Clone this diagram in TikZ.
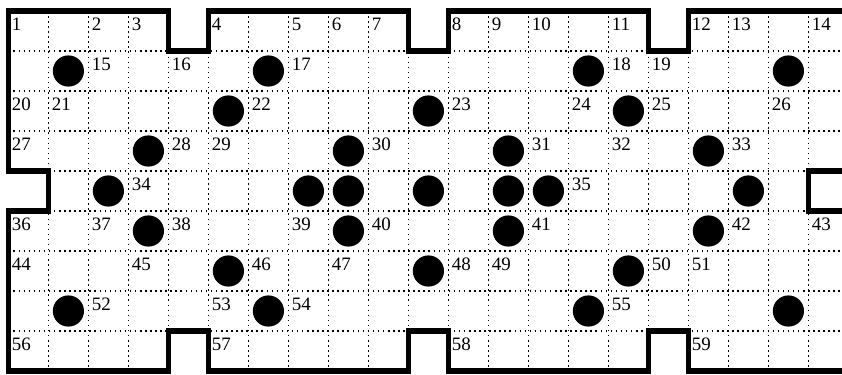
\documentclass[tikz,border=0pt]{standalone}
\usepackage{tikz}
\usepackage{fontspec}
\setmainfont{Liberation Serif}

\begin{document}
\begin{tikzpicture}[
  gridline/.style={line width=1.1pt, dash pattern=on 1.1pt off 2.5pt},
  frame/.style={line width=3.9pt},
  disc/.style={circle, fill=black, inner sep=0pt, minimum size=0.78cm},
  num/.style={anchor=base west, inner sep=0pt, xshift=0.08cm, yshift=-0.475cm, font=\fontsize{13.5}{13.5}\selectfont}]
\useasboundingbox (-0.21,0.275) rectangle (20.84,-9.075);
%plot the grid
%rows
\draw[gridline] (0,-1) to (21,-1);
\draw[gridline] (0,-2) to (21,-2);
\draw[gridline] (0,-3) to (21,-3);
\draw[gridline] (0,-4) to (21,-4);
\draw[gridline] (0,-5) to (21,-5);
\draw[gridline] (0,-6) to (21,-6);
\draw[gridline] (0,-7) to (21,-7);
\draw[gridline] (0,-8) to (21,-8);
%columns
\draw[gridline] (1,0) to (1,-9);
\draw[gridline] (2,0) to (2,-9);
\draw[gridline] (3,0) to (3,-9);
\draw[gridline] (4,0) to (4,-9);
\draw[gridline] (5,0) to (5,-9);
\draw[gridline] (6,0) to (6,-9);
\draw[gridline] (7,0) to (7,-9);
\draw[gridline] (8,0) to (8,-9);
\draw[gridline] (9,0) to (9,-9);
\draw[gridline] (10,0) to (10,-9);
\draw[gridline] (11,0) to (11,-9);
\draw[gridline] (12,0) to (12,-9);
\draw[gridline] (13,0) to (13,-9);
\draw[gridline] (14,0) to (14,-9);
\draw[gridline] (15,0) to (15,-9);
\draw[gridline] (16,0) to (16,-9);
\draw[gridline] (17,0) to (17,-9);
\draw[gridline] (18,0) to (18,-9);
\draw[gridline] (19,0) to (19,-9);
\draw[gridline] (20,0) to (20,-9);
%frame with the notches
\draw[frame] (0,0) -- (4,0) -- (4,-1) -- (5,-1) -- (5,0) -- (10,0) -- (10,-1) -- (11,-1) -- (11,0)
  -- (16,0) -- (16,-1) -- (17,-1) -- (17,0) -- (21,0) -- (21,-4) -- (20,-4) -- (20,-5) -- (21,-5)
  -- (21,-9) -- (17,-9) -- (17,-8) -- (16,-8) -- (16,-9) -- (11,-9) -- (11,-8) -- (10,-8) -- (10,-9)
  -- (5,-9) -- (5,-8) -- (4,-8) -- (4,-9) -- (0,-9) -- (0,-5) -- (1,-5) -- (1,-4) -- (0,-4) -- cycle;

%put discs
%row 1
\node[disc] (disc1) at (1.5,-1.5) {};
\node[disc] (disc2) at (6.5,-1.5) {};
\node[disc] (disc3) at (14.5,-1.5) {};
\node[disc] (disc4) at (19.5,-1.5) {};
%row 2
\node[disc] (disc5) at (5.5,-2.5) {};
\node[disc] (disc6) at (10.5,-2.5) {};
\node[disc] (disc7) at (15.5,-2.5) {};
%row 3
\node[disc] (disc8) at (3.5,-3.5) {};
\node[disc] (disc9) at (8.5,-3.5) {};
\node[disc] (disc10) at (12.5,-3.5) {};
\node[disc] (disc11) at (17.5,-3.5) {};
%row 4
\node[disc] (disc12) at (2.5,-4.5) {};
\node[disc] (disc13) at (7.5,-4.5) {};
\node[disc] (disc14) at (8.5,-4.5) {};
\node[disc] (disc15) at (10.5,-4.5) {};
\node[disc] (disc16) at (12.5,-4.5) {};
\node[disc] (disc17) at (13.5,-4.5) {};
\node[disc] (disc18) at (18.5,-4.5) {};
%row 5
\node[disc] (disc19) at (3.5,-5.5) {};
\node[disc] (disc20) at (8.5,-5.5) {};
\node[disc] (disc21) at (12.5,-5.5) {};
\node[disc] (disc22) at (17.5,-5.5) {};
%row 6
\node[disc] (disc23) at (5.5,-6.5) {};
\node[disc] (disc24) at (10.5,-6.5) {};
\node[disc] (disc25) at (15.5,-6.5) {};
%row 7
\node[disc] (disc26) at (1.5,-7.5) {};
\node[disc] (disc27) at (6.5,-7.5) {};
\node[disc] (disc28) at (14.5,-7.5) {};
\node[disc] (disc29) at (19.5,-7.5) {};

%numbers
%row 0
\node[num] (n1) at (0,0) {1};
\node[num] (n2) at (2,0) {2};
\node[num] (n3) at (3,0) {3};
\node[num] (n4) at (5,0) {4};
\node[num] (n5) at (7,0) {5};
\node[num] (n6) at (8,0) {6};
\node[num] (n7) at (9,0) {7};
\node[num] (n8) at (11,0) {8};
\node[num] (n9) at (12,0) {9};
\node[num] (n10) at (13,0) {10};
\node[num] (n11) at (15,0) {11};
\node[num] (n12) at (17,0) {12};
\node[num] (n13) at (18,0) {13};
\node[num] (n14) at (20,0) {14};
%row 1
\node[num] (n15) at (2,-1) {15};
\node[num] (n16) at (4,-1) {16};
\node[num] (n17) at (7,-1) {17};
\node[num] (n18) at (15,-1) {18};
\node[num] (n19) at (16,-1) {19};
%row 2
\node[num] (n20) at (0,-2) {20};
\node[num] (n21) at (1,-2) {21};
\node[num] (n22) at (6,-2) {22};
\node[num] (n23) at (11,-2) {23};
\node[num] (n24) at (14,-2) {24};
\node[num] (n25) at (16,-2) {25};
\node[num] (n26) at (19,-2) {26};
%row 3
\node[num] (n27) at (0,-3) {27};
\node[num] (n28) at (4,-3) {28};
\node[num] (n29) at (5,-3) {29};
\node[num] (n30) at (9,-3) {30};
\node[num] (n31) at (13,-3) {31};
\node[num] (n32) at (15,-3) {32};
\node[num] (n33) at (18,-3) {33};
%row 4
\node[num] (n34) at (3,-4) {34};
\node[num] (n35) at (14,-4) {35};
%row 5
\node[num] (n36) at (0,-5) {36};
\node[num] (n37) at (2,-5) {37};
\node[num] (n38) at (4,-5) {38};
\node[num] (n39) at (7,-5) {39};
\node[num] (n40) at (9,-5) {40};
\node[num] (n41) at (13,-5) {41};
\node[num] (n42) at (18,-5) {42};
\node[num] (n43) at (20,-5) {43};
%row 6
\node[num] (n44) at (0,-6) {44};
\node[num] (n45) at (3,-6) {45};
\node[num] (n46) at (6,-6) {46};
\node[num] (n47) at (8,-6) {47};
\node[num] (n48) at (11,-6) {48};
\node[num] (n49) at (12,-6) {49};
\node[num] (n50) at (16,-6) {50};
\node[num] (n51) at (17,-6) {51};
%row 7
\node[num] (n52) at (2,-7) {52};
\node[num] (n53) at (5,-7) {53};
\node[num] (n54) at (7,-7) {54};
\node[num] (n55) at (15,-7) {55};
%row 8
\node[num] (n56) at (0,-8) {56};
\node[num] (n57) at (5,-8) {57};
\node[num] (n58) at (11,-8) {58};
\node[num] (n59) at (17,-8) {59};
\end{tikzpicture}
\end{document}
